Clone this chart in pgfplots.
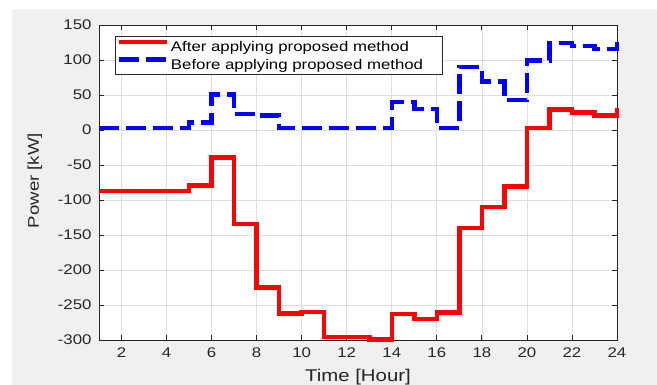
\documentclass[border=0pt]{standalone}
\usepackage{fontspec}
\setmainfont{Liberation Sans}[FakeStretch=1.2]
\usepackage{pgfplots}
\usepackage{pgfplotstable}
\pgfplotsset{compat=1.18}

\definecolor{figbg}{RGB}{240,240,240}
\definecolor{axcol}{RGB}{38,38,38}
\definecolor{gridcol}{RGB}{222,222,222}

% hourly power with the proposed method
\pgfplotstableread{
hour power
1  -87
2  -87
3  -87
4  -87
5  -79
6  -39
7  -134
8  -225
9  -262
10 -260
11 -296
12 -296
13 -299
14 -263
15 -270
16 -261
17 -140
18 -110
19 -81
20 3
21 29
22 25
23 21
24 31
}\after

% hourly power without the proposed method
\pgfplotstableread{
hour power
1  3
2  3
3  3
4  3
5  11
6  51
7  23
8  21
9  3
10 3
11 3
12 3
13 3
14 40
15 30
16 3
17 90
18 69
19 43
20 99
21 124
22 120
23 116
24 126
}\before

\begin{document}
\begin{tikzpicture}[x=1pt,y=1pt]
\fill[white] (0,0) rectangle (657,385);
\fill[figbg] (12,0) rectangle (657,376);
\useasboundingbox (0,0) rectangle (657,385);
\begin{axis}[
  at={(99pt,45pt)}, anchor=south west,
  scale only axis, width=518pt, height=315pt,
  xmin=1, xmax=24, ymin=-300, ymax=150,
  clip=false,
  xtick={2,4,...,24}, ytick={-300,-250,...,150},
  axis background/.style={fill=white},
  grid=major, major grid style={gridcol, line width=0.7pt},
  axis line style={axcol, line width=0.8pt},
  tick style={axcol, line width=0.8pt}, major tick length=5pt,
  tick align=inside,
  /pgf/number format/assume math mode=true,
  ticklabel style={font=\fontsize{14}{16}\selectfont, text=axcol},
  xticklabel style={yshift=-4pt},
  yticklabel style={xshift=-4pt},
  xlabel={Time [Hour]},
  ylabel={Power [kW]},
  xlabel style={font=\fontsize{17}{19}\selectfont, text=axcol,
    at={(axis description cs:0.5,0)}, anchor=base, yshift=-42pt},
  ylabel style={font=\fontsize{15.5}{17}\selectfont, text=axcol,
    at={(axis description cs:-0.1236,0.506)}, anchor=center},
  legend cell align=left,
  legend image code/.code={\draw[#1] (0pt,4.5pt) -- (48pt,4.5pt);},
  legend style={
    at={(axis description cs:0.031,0.965)}, anchor=north west,
    draw=axcol, line width=0.8pt, fill=white,
    font=\fontsize{14}{16}\selectfont, text=black,
    inner xsep=1pt, inner ysep=1.4pt,
    nodes={inner xsep=2pt, inner ysep=0.8pt, text height=13pt, text depth=3pt},
  },
]
\addplot[const plot mark left, red, line width=4.5pt, line join=miter]
  table[x=hour, y=power] {\after};
\addlegendentry{After applying proposed method\kern16pt}
\addplot[const plot mark left, blue, line width=4.5pt, line join=miter,
  dash pattern=on 20pt off 7pt]
  table[x=hour, y=power] {\before};
\addlegendentry{Before applying proposed method\kern16pt}
\end{axis}
\end{tikzpicture}
\end{document}
